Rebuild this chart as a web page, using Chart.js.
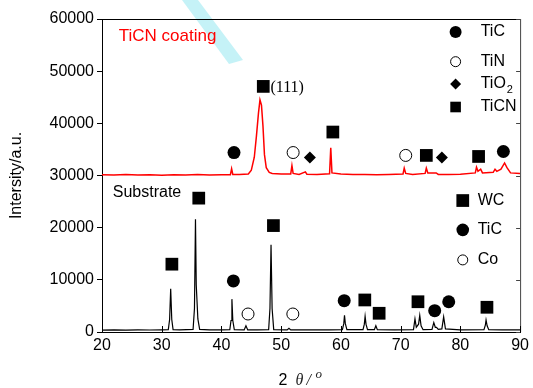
<!DOCTYPE html>
<html>
<head>
<meta charset="utf-8">
<script src="https://cdn.jsdelivr.net/npm/chart.js@4.4.1/dist/chart.umd.min.js"></script>
<style>
html,body{margin:0;padding:0;background:#fff;}
canvas{display:block;}
</style>
</head>
<body>
<canvas id="c" width="533" height="388" style="width:533px;height:388px"></canvas>
<script>
// ---- data ----
const xTicks = [20, 30, 40, 50, 60, 70, 80, 90];
const yTicks = [0, 10000, 20000, 30000, 40000, 50000, 60000];

// Substrate XRD trace (2θ, intensity)
const substrate = [
 [20,350],[22,400],[24,350],[26,420],[28,380],[30,420],[31.1,450],[31.32,2400],[31.5,8300],[31.68,2400],[31.9,450],
 [33,420],[35.25,500],[35.48,4500],[35.65,21600],[35.78,9000],[35.9,9000],[36.05,2500],[36.35,500],[38,400],[40,420],
 [41.4,450],[41.6,2200],[41.75,6300],[41.9,2200],[42.15,450],[43.8,400],[44.1,1200],[44.4,400],[46,400],
 [47.9,450],[48.12,4500],[48.3,16700],[48.48,4500],[48.75,450],[51.0,400],[51.3,700],[51.6,400],[55,400],[58,400],
 [60.25,450],[60.48,1600],[60.6,3200],[60.74,1600],[61.0,450],[63.7,450],[63.92,1500],[64.05,3000],[64.2,1500],[64.45,450],
 [65.6,450],[65.85,1200],[66.1,450],[69,400],[72.15,450],[72.4,2500],[72.62,900],[73.0,1500],[73.2,3200],[73.42,1200],[73.75,450],
 [75.25,500],[75.55,1800],[75.8,900],[76.0,900],[76.3,500],[76.9,600],[77.2,2900],[77.5,600],[80,400],
 [83.95,450],[84.18,1300],[84.3,2300],[84.48,1200],[84.75,450],[87,400],[90,400]
];

// TiCN coating XRD trace (2θ, intensity, offset baseline)
const coating = [
 [20,30150],[22,30100],[24,30200],[26,30100],[28,30150],[30,30050],[32,30150],[34,30100],[36,30200],[38,30100],[40,30150],
 [41.5,30150],[41.7,31300],[41.9,30200],[43,30200],[44.5,30300],[45.0,31000],[45.5,33500],[45.85,37500],[46.2,42000],
 [46.45,44500],[46.7,43500],[46.95,39500],[47.2,34000],[47.5,31500],[48.0,30600],[48.5,30400],[50,30300],
 [51.6,30300],[51.8,31900],[52.0,30400],[53,30200],[54.05,30700],[54.3,30250],[56,30200],[58.1,30350],[58.3,35300],[58.5,30500],
 [60,30300],[62,30200],[64,30200],[66,30150],[68,30200],[70.4,30300],[70.6,31400],[70.85,30400],[72,30200],
 [74.1,30400],[74.3,31400],[74.55,30500],[75.95,30500],[76.3,30200],[78,30200],[80,30250],
 [82.5,30500],[82.7,31600],[82.95,30800],[83.4,31200],[83.7,30500],[85.5,30600],[85.8,31200],[86.1,30800],
 [86.8,31200],[87.4,32400],[87.8,31500],[88.4,30500],[90,30400]
];

// phase markers on the coating trace
const coatTiC  = [[42.1,34400],[87.2,34600]];
const coatTiN  = [[52.0,34400],[70.85,33850]];
const coatTiO2 = [[54.8,33450],[76.9,33450]];
const coatTiCN = [[47.0,47080],[58.65,38330],[74.3,33850],[83.05,33650]];

// phase markers on the substrate trace
const subWC  = [[31.7,13000],[36.2,25660],[48.7,20400],[64.0,6140],[66.4,3590],[72.9,5800],[84.45,4740]];
const subTiC = [[42.0,9790],[60.55,6000],[75.7,4090],[78.05,5800]];
const subCo  = [[44.45,3450],[51.95,3450]];

// key symbols (inside the plot)
const keyCoatFilled = [[79.2,57520]];
const keyCoatOpen   = [[79.2,51820]];
const keyCoatDiamond= [[79.2,47540]];
const keyCoatSquare = [[79.2,43130]];
const keySubSquare  = [[80.4,25200]];
const keySubFilled  = [[80.4,19580]];
const keySubOpen    = [[80.4,13820]];

// text labels
const labelText = ['TiCN coating','Substrate','(111)','TiC','TiN','TiO','TiCN','WC','TiC','Co'];
const labelX    = [22.8, 21.8, 48.2, 83.4, 83.4, 83.4, 83.4, 82.9, 82.9, 82.9];
const labelY    = [56700, 26740, 46780, 57520, 51820, 47540, 43130, 25200, 19580, 13820];

const yTitle = 'Intersity/a.u.';
// ---------------------------------------

const toPts = a => a.map(p => ({x:p[0], y:p[1]}));
const SANS = '"Liberation Sans", Arial, Helvetica, sans-serif';
const SERIF = '"Liberation Serif", "Times New Roman", serif';

function markerSet(arr, style, r, fill){
  return {type:'scatter', data: toPts(arr), pointStyle: style, pointRadius: r, pointHoverRadius: r,
          backgroundColor: fill ? '#000' : '#fff', borderColor:'#000', borderWidth: fill ? 0 : 1, showLine:false, order:0};
}

const labelStyles = [
 {color:'#ff0000', font:'17px '+SANS},
 {color:'#000', font:'16px '+SANS},
 {color:'#000', font:'16px '+SERIF},
 {color:'#000', font:'16px '+SANS},
 {color:'#000', font:'16px '+SANS},
 {color:'#000', font:'16px '+SANS, sub:'2'},
 {color:'#000', font:'16px '+SANS},
 {color:'#000', font:'16px '+SANS},
 {color:'#000', font:'16px '+SANS},
 {color:'#000', font:'16px '+SANS}
];

const decor = {
  id:'decor',
  beforeDraw(chart){
    const c = chart.ctx;
    c.save();
    c.fillStyle = 'rgba(140,230,240,0.5)';
    c.beginPath();
    c.moveTo(182,0); c.lineTo(198,0); c.lineTo(243,60); c.lineTo(229,64); c.closePath();
    c.fill();
    c.restore();
  },
  afterDraw(chart){
    const c = chart.ctx, a = chart.chartArea, xs = chart.scales.x, ys = chart.scales.y;
    c.save();
    // box top / right
    c.strokeStyle = '#000'; c.lineWidth = 1;
    c.beginPath(); c.moveTo(a.left, a.top+0.5); c.lineTo(a.right, a.top+0.5); c.stroke();
    c.strokeStyle = '#444';
    c.beginPath(); c.moveTo(a.right+0.5, a.top); c.lineTo(a.right+0.5, a.bottom); c.stroke();
    // inner ticks
    c.strokeStyle = '#000';
    xTicks.forEach(v => { const px = Math.round(xs.getPixelForValue(v))+0.5;
      c.beginPath(); c.moveTo(px, a.bottom); c.lineTo(px, a.bottom-6); c.stroke(); });
    c.strokeStyle = '#444';
    yTicks.forEach(v => { const py = Math.round(ys.getPixelForValue(v))+0.5;
      c.beginPath(); c.moveTo(a.right, py); c.lineTo(a.right-4, py); c.stroke(); });
    // labels
    c.textBaseline = 'middle'; c.textAlign = 'left';
    labelText.forEach((t,i) => {
      const st = labelStyles[i];
      const px = xs.getPixelForValue(labelX[i]), py = ys.getPixelForValue(labelY[i]);
      c.fillStyle = st.color; c.font = st.font;
      c.fillText(t, px, py);
      if (st.sub){ const w = c.measureText(t).width; c.font = '11px '+SANS; c.fillText(st.sub, px+w+1, py+6); }
    });
    // x title: 2 θ / °
    const cx = (a.left + a.right)/2 - 10, cy = 381;
    const s = cx - 22.5;
    c.fillStyle = '#000'; c.font = '16px '+SANS; c.fillText('2', s, cy);
    c.fillStyle = '#222'; c.font = 'italic 16px '+SERIF; c.fillText('θ', s+17, cy);
    c.fillText('/', s+28, cy);
    c.font = 'italic 13px '+SERIF; c.fillText('o', s+37, cy-6);
    c.restore();
  }
};

new Chart(document.getElementById('c'), {
  type:'scatter',
  data:{ datasets:[
    {type:'line', data: toPts(substrate), borderColor:'#000', borderWidth:1.2, pointRadius:0, tension:0, fill:false, order:2},
    {type:'line', data: toPts(coating), borderColor:'#ff0000', borderWidth:1.5, pointRadius:0, tension:0, fill:false, order:2},
    markerSet(coatTiC,'circle',6.5,true),
    markerSet(coatTiN,'circle',6,false),
    markerSet(coatTiO2,'rectRot',6,true),
    markerSet(coatTiCN,'rect',9,true),
    markerSet(subWC,'rect',9,true),
    markerSet(subTiC,'circle',6.5,true),
    markerSet(subCo,'circle',6,false),
    markerSet(keyCoatFilled,'circle',6,true),
    markerSet(keyCoatOpen,'circle',5,false),
    markerSet(keyCoatDiamond,'rectRot',5.5,true),
    markerSet(keyCoatSquare,'rect',7.5,true),
    markerSet(keySubSquare,'rect',9,true),
    markerSet(keySubFilled,'circle',6.3,true),
    markerSet(keySubOpen,'circle',5,false)
  ]},
  options:{
    responsive:false, animation:false, devicePixelRatio:1,
    layout:{padding:{left:0, right:9, top:19, bottom:0}},
    plugins:{legend:{display:false}, tooltip:{enabled:false}},
    scales:{
      x:{type:'linear', min:20, max:90,
         afterBuildTicks(s){ s.ticks = xTicks.map(v=>({value:v})); },
         afterFit(s){ s.height = 56; },
         ticks:{font:{family:SANS, size:16}, color:'#000', padding:4, maxRotation:0, autoSkip:false, callback:v=>String(v)},
         grid:{display:true, drawOnChartArea:false, drawTicks:false},
         border:{display:true, color:'#000', width:1}},
      y:{type:'linear', min:0, max:60000,
         afterBuildTicks(s){ s.ticks = yTicks.map(v=>({value:v})); },
         afterFit(s){ s.width = 102; },
         ticks:{font:{family:SANS, size:16}, color:'#000', padding:3, autoSkip:false, callback:v=>String(v)},
         grid:{display:true, drawOnChartArea:false, drawTicks:true, tickLength:5, color:'#000'},
         border:{display:true, color:'#000', width:1},
         title:{display:true, text:yTitle, font:{family:SANS, size:16}, color:'#000', padding:{top:7,bottom:0}}}
    }
  },
  plugins:[decor]
});
</script>
</body>
</html>
